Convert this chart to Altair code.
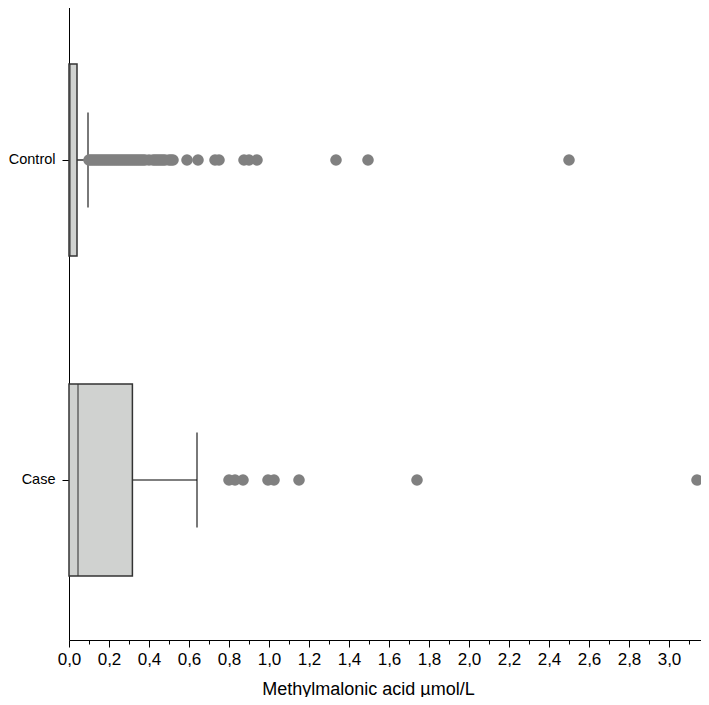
import altair as alt
import pandas as pd

groups = ["Control", "Case"]
q1 = [0.0, 0.0]
median = [0.005, 0.045]
q3 = [0.04, 0.317]
whisker_hi = [0.095, 0.64]

control_outliers = [0.10, 0.11, 0.12, 0.13, 0.14, 0.15, 0.16, 0.17, 0.18, 0.19, 0.20,
                    0.21, 0.22, 0.23, 0.24, 0.25, 0.26, 0.27, 0.28, 0.29, 0.30, 0.31,
                    0.32, 0.33, 0.34, 0.35, 0.36, 0.37, 0.38, 0.40, 0.42, 0.43, 0.44,
                    0.45, 0.46, 0.47, 0.48, 0.50, 0.51, 0.52, 0.59, 0.645, 0.73, 0.75,
                    0.875, 0.90, 0.94, 1.335, 1.495, 2.50]
case_outliers = [0.80, 0.83, 0.87, 0.995, 1.025, 1.15, 1.74, 3.14]

x_ticks = [0.0, 0.1, 0.2, 0.3, 0.4, 0.5, 0.6, 0.7, 0.8, 0.9, 1.0, 1.1, 1.2, 1.3, 1.4,
           1.5, 1.6, 1.7, 1.8, 1.9, 2.0, 2.1, 2.2, 2.3, 2.4, 2.5, 2.6, 2.7, 2.8, 2.9,
           3.0, 3.1]

box_df = pd.DataFrame({"group": groups, "q1": q1, "median": median, "q3": q3,
                       "whi": whisker_hi})
pts_df = pd.DataFrame({
    "group": ["Control"] * len(control_outliers) + ["Case"] * len(case_outliers),
    "value": control_outliers + case_outliers,
})

FONT = "Liberation Sans"

x_scale = alt.Scale(domain=[0, 3.16], nice=False, zero=False)
y_scale = alt.Scale(domain=groups, paddingInner=0, paddingOuter=0, range=[-8, 632])

x_axis = alt.Axis(
    title="Methylmalonic acid µmol/L",
    values=x_ticks,
    labelExpr="round(datum.value*10) % 2 == 0 ? replace(format(datum.value, '.1f'), '.', ',') : ''",
    tickSize={"condition": {"test": "round(datum.value*10) % 2 == 0", "value": 7}, "value": 4},
    tickColor="#000000",
    domainColor="#000000",
    labelFont=FONT, labelFontSize=17, labelColor="#000000", labelPadding=4,
    titleFont=FONT, titleFontSize=18, titleFontWeight="normal", titleColor="#000000",
    titleX=299, titleY=40, titleAnchor="middle", titleBaseline="top",
    grid=False, labelFlush=False, labelOverlap=False,
)
y_axis = alt.Axis(
    title=None, tickSize=7, tickColor="#000000", domainColor="#000000",
    labelFont=FONT, labelFontSize=14.5, labelColor="#000000", labelPadding=7, grid=False,
)

X = lambda f: alt.X(f, scale=x_scale, axis=x_axis)
Y = alt.Y("group:N", scale=y_scale, axis=y_axis, sort=groups)

base = alt.Chart(box_df)

whisker = base.mark_rule(color="#000000", strokeWidth=1.2).encode(
    x=X("q3:Q"), x2="whi:Q", y=Y,
)
cap = base.mark_tick(color="#000000", thickness=1.5, size=95, orient="vertical").encode(
    x=X("whi:Q"), y=Y,
)
box = base.mark_bar(size=192, fill="#d0d2d0", stroke="#333333", strokeWidth=1.5).encode(
    x=X("q1:Q"), x2="q3:Q", y=Y,
)
med = base.mark_tick(color="#333333", thickness=1.5, size=192, orient="vertical").encode(
    x=X("median:Q"), y=Y,
)
points = alt.Chart(pts_df).mark_circle(size=135, color="#808080", opacity=1).encode(
    x=X("value:Q"), y=Y,
)

chart = alt.layer(whisker, cap, box, med, points).properties(
    width=632, height=632,
    padding={"left": 61, "top": 0, "right": 0, "bottom": 57},
    autosize=alt.AutoSizeParams(type="none"),
    background="white",
).configure_view(stroke=None)

chart.save("out.html", embed_options={"renderer": "svg", "actions": False})
